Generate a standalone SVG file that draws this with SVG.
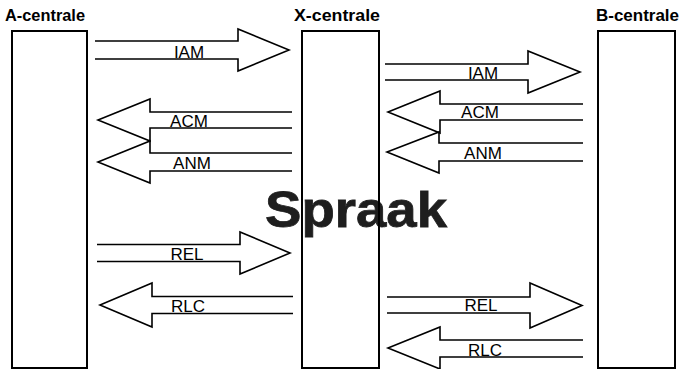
<svg xmlns="http://www.w3.org/2000/svg" width="683" height="369" viewBox="0 0 683 369">
<style>
.box{fill:none;stroke:#000;stroke-width:2}
.title{font-family:"Liberation Sans",Arial,sans-serif;font-weight:bold;font-size:16px;fill:#000}
.arr{fill:none;stroke:#000;stroke-width:1.6;stroke-linejoin:miter}
.lbl{font-family:"Liberation Sans",Arial,sans-serif;font-size:17px;fill:#000;text-anchor:middle}
.big{font-family:"Liberation Sans",Arial,sans-serif;font-weight:bold;font-size:50px;fill:#1e1e1e;stroke:#1e1e1e;stroke-width:0.8}
</style>
<rect width="683" height="369" fill="#fff"/>
<text class="big" x="265" y="227" textLength="182" lengthAdjust="spacingAndGlyphs">Spraak</text>
<g id="A-centrale">
<text class="title" x="5" y="21" textLength="80" lengthAdjust="spacingAndGlyphs">A-centrale</text>
<rect class="box" x="12" y="31" width="75" height="337"/>
</g>
<g id="X-centrale">
<text class="title" x="294" y="21" textLength="86" lengthAdjust="spacingAndGlyphs">X-centrale</text>
<rect class="box" x="302" y="31" width="77" height="337"/>
</g>
<g id="B-centrale">
<text class="title" x="596" y="21" textLength="83" lengthAdjust="spacingAndGlyphs">B-centrale</text>
<rect class="box" x="598" y="31" width="77" height="337"/>
</g>
<g id="connectors">
<path class="arr" d="M95,41 H238 V29 L289,50 L238,71 V59 H95"/>
<path class="arr" d="M292,112 H150 V99 L98,120 L150,141 V128 H292"/>
<path class="arr" d="M292,153 H150 V141 L98,162 L150,183 V171 H292"/>
<path class="arr" d="M97,244.5 H240 V232 L290,253 L240,274 V261.5 H97"/>
<path class="arr" d="M293,296.5 H152 V283 L100,305 L152,327 V313.5 H293"/>
<path class="arr" d="M385,64 H528 V51 L580,72 L528,93 V80 H385"/>
<path class="arr" d="M583,104 H440 V91 L388,112 L440,133 V120 H583"/>
<path class="arr" d="M583,143 H439 V132 L387,152 L439,173 V161 H583"/>
<path class="arr" d="M387,297 H530 V283 L582,305.5 L530,328 V313 H387"/>
<path class="arr" d="M583,340 H440 V327 L388,348 L440,369 V357 H583"/>
<text class="lbl" x="189" y="58">IAM</text>
<text class="lbl" x="189" y="127">ACM</text>
<text class="lbl" x="192" y="169">ANM</text>
<text class="lbl" x="187" y="260">REL</text>
<text class="lbl" x="188" y="312">RLC</text>
<text class="lbl" x="483" y="79">IAM</text>
<text class="lbl" x="480" y="118">ACM</text>
<text class="lbl" x="483" y="159">ANM</text>
<text class="lbl" x="481" y="311">REL</text>
<text class="lbl" x="485" y="356">RLC</text>
</g>
</svg>
